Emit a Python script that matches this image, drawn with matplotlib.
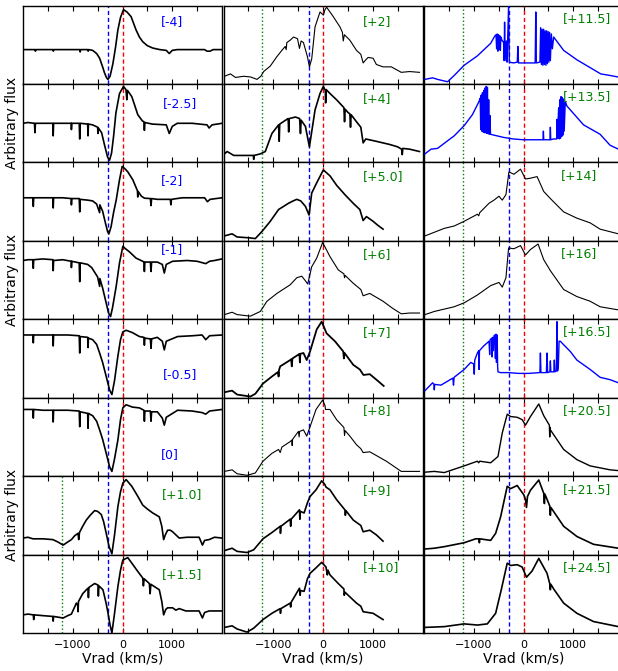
import numpy as np
import matplotlib
matplotlib.use("Agg")
import matplotlib.pyplot as plt

# spectra: (Vrad km/s, arbitrary flux)
s_m4 = [(-2000,0.44),(-1760,0.44),(-1750,0.42),(-1740,0.44),(-1400,0.44),(-1390,0.42),(-1380,0.44),(-860,0.44),(-850,0.41),(-840,0.44),(-700,0.44),(-690,0.42),(-680,0.44),(-600,0.43),(-520,0.39),(-460,0.33),(-400,0.22),(-360,0.14),(-320,0.08),(-293,0.06),(-250,0.10),(-193,0.26),(-140,0.47),(-93,0.69),(-40,0.85),(20,0.95),(90,0.92),(173,0.86),(273,0.69),(340,0.60),(407,0.54),(500,0.49),(607,0.46),(750,0.44),(880,0.43),(940,0.39),(1000,0.43),(1100,0.44),(1650,0.44),(1700,0.42),(1760,0.42),(1820,0.44),(2000,0.44)]
s_m2p5 = [(-2000,0.50),(-1900,0.51),(-1770,0.50),(-1760,0.38),(-1750,0.50),(-1600,0.50),(-1400,0.50),(-1393,0.34),(-1385,0.50),(-1200,0.50),(-1030,0.50),(-1027,0.42),(-1020,0.50),(-870,0.50),(-860,0.30),(-850,0.50),(-700,0.49),(-693,0.34),(-685,0.49),(-600,0.48),(-500,0.45),(-493,0.37),(-485,0.44),(-420,0.38),(-360,0.22),(-300,0.07),(-260,0.03),(-220,0.12),(-180,0.33),(-133,0.63),(-60,0.88),(20,0.97),(70,0.93),(87,0.80),(100,0.92),(187,0.84),(250,0.72),(307,0.61),(400,0.53),(430,0.52),(440,0.41),(450,0.51),(600,0.49),(880,0.48),(940,0.37),(1000,0.46),(1100,0.50),(1400,0.50),(1700,0.48),(1740,0.44),(1800,0.48),(2000,0.50)]
s_m2 = [(-2000,0.55),(-1800,0.55),(-1793,0.44),(-1785,0.55),(-1600,0.55),(-1400,0.55),(-1393,0.42),(-1385,0.55),(-1200,0.55),(-1030,0.54),(-1027,0.46),(-1020,0.54),(-870,0.54),(-860,0.37),(-850,0.53),(-700,0.52),(-600,0.51),(-520,0.47),(-460,0.36),(-455,0.46),(-400,0.38),(-340,0.22),(-300,0.12),(-273,0.09),(-230,0.18),(-180,0.36),(-127,0.52),(-60,0.78),(-7,0.95),(50,0.92),(107,0.88),(207,0.78),(300,0.64),(307,0.56),(315,0.63),(380,0.57),(440,0.545),(560,0.54),(573,0.45),(585,0.54),(700,0.53),(960,0.53),(973,0.46),(985,0.53),(1200,0.55),(1650,0.55),(1707,0.50),(1760,0.53),(2000,0.55)]
s_m1 = [(-2000,0.75),(-1900,0.76),(-1800,0.76),(-1793,0.65),(-1785,0.76),(-1600,0.77),(-1400,0.76),(-1393,0.62),(-1385,0.75),(-1200,0.76),(-1030,0.74),(-1027,0.66),(-1020,0.74),(-870,0.72),(-860,0.48),(-850,0.72),(-700,0.70),(-620,0.66),(-560,0.60),(-500,0.54),(-460,0.42),(-455,0.52),(-400,0.40),(-340,0.24),(-280,0.08),(-240,0.035),(-200,0.15),(-127,0.42),(-60,0.72),(7,0.93),(60,0.90),(140,0.86),(273,0.78),(407,0.74),(430,0.73),(440,0.61),(450,0.73),(560,0.73),(573,0.61),(585,0.73),(700,0.73),(800,0.70),(840,0.59),(880,0.70),(1007,0.74),(1300,0.75),(1500,0.74),(1673,0.71),(1750,0.74),(1850,0.75),(2000,0.77)]
s_m0p5 = [(-2000,0.80),(-1800,0.80),(-1793,0.70),(-1785,0.80),(-1600,0.80),(-1400,0.80),(-1393,0.66),(-1385,0.80),(-1100,0.80),(-870,0.79),(-860,0.57),(-850,0.78),(-700,0.77),(-693,0.64),(-685,0.76),(-600,0.74),(-520,0.68),(-460,0.57),(-400,0.45),(-327,0.27),(-260,0.10),(-213,0.04),(-160,0.22),(-93,0.53),(-40,0.74),(7,0.84),(73,0.86),(200,0.83),(340,0.78),(430,0.77),(440,0.67),(450,0.76),(560,0.75),(573,0.63),(585,0.75),(700,0.77),(800,0.72),(840,0.61),(880,0.72),(1107,0.78),(1400,0.79),(1600,0.80),(1673,0.74),(1750,0.79),(2000,0.80)]
s_0 = [(-2000,0.85),(-1800,0.85),(-1793,0.74),(-1785,0.85),(-1600,0.84),(-1400,0.84),(-1393,0.69),(-1385,0.84),(-1100,0.84),(-870,0.83),(-860,0.63),(-850,0.82),(-700,0.80),(-693,0.61),(-685,0.80),(-600,0.77),(-520,0.70),(-460,0.59),(-400,0.47),(-327,0.29),(-260,0.12),(-213,0.06),(-160,0.22),(-93,0.46),(-40,0.72),(7,0.87),(73,0.91),(200,0.88),(340,0.87),(430,0.84),(440,0.70),(450,0.83),(560,0.83),(573,0.70),(585,0.82),(700,0.82),(800,0.74),(840,0.65),(880,0.75),(1107,0.84),(1400,0.83),(1600,0.81),(1673,0.79),(1750,0.83),(2000,0.85)]
s_p1 = [(-2000,0.21),(-1900,0.22),(-1800,0.20),(-1600,0.20),(-1400,0.19),(-1300,0.16),(-1193,0.12),(-1100,0.16),(-1027,0.19),(-960,0.24),(-893,0.27),(-880,0.19),(-865,0.28),(-800,0.36),(-727,0.44),(-650,0.50),(-560,0.56),(-500,0.55),(-427,0.51),(-380,0.42),(-327,0.27),(-270,0.10),(-213,0.01),(-160,0.25),(-93,0.61),(-40,0.80),(7,0.91),(73,0.955),(187,0.87),(300,0.75),(407,0.63),(500,0.58),(607,0.53),(740,0.48),(790,0.36),(827,0.19),(860,0.25),(907,0.31),(960,0.31),(1007,0.29),(1140,0.21),(1300,0.22),(1540,0.22),(1607,0.12),(1650,0.18),(1740,0.19),(1850,0.22),(2000,0.21)]
s_p1p5 = [(-2000,0.23),(-1900,0.24),(-1793,0.23),(-1785,0.17),(-1775,0.23),(-1600,0.22),(-1400,0.21),(-1393,0.15),(-1385,0.21),(-1193,0.19),(-1100,0.22),(-1027,0.24),(-927,0.38),(-900,0.35),(-893,0.27),(-885,0.40),(-800,0.50),(-727,0.55),(-693,0.57),(-685,0.45),(-675,0.58),(-560,0.63),(-493,0.61),(-485,0.47),(-475,0.60),(-393,0.55),(-330,0.38),(-293,0.26),(-250,0.10),(-213,0.0),(-160,0.25),(-93,0.59),(-40,0.80),(7,0.93),(107,0.96),(187,0.89),(300,0.79),(407,0.70),(420,0.60),(435,0.69),(540,0.63),(555,0.50),(570,0.62),(740,0.55),(790,0.40),(827,0.23),(870,0.30),(907,0.32),(1007,0.32),(1073,0.29),(1140,0.31),(1273,0.28),(1540,0.28),(1607,0.19),(1650,0.26),(1740,0.28),(2000,0.28)]

s_p2 = [(-1980,0.10),(-1860,0.13),(-1760,0.085),(-1593,0.10),(-1450,0.09),(-1327,0.06),(-1250,0.10),(-1193,0.16),(-1060,0.23),(-927,0.35),(-827,0.43),(-760,0.48),(-740,0.44),(-727,0.53),(-660,0.56),(-593,0.60),(-513,0.58),(-473,0.455),(-440,0.55),(-393,0.53),(-313,0.35),(-273,0.22),(-227,0.32),(-160,0.73),(-60,0.92),(7,0.88),(40,0.95),(73,0.98),(207,0.86),(340,0.73),(390,0.66),(407,0.55),(430,0.63),(540,0.56),(673,0.43),(760,0.38),(807,0.27),(860,0.31),(907,0.34),(1007,0.33),(1073,0.25),(1207,0.22),(1373,0.22),(1573,0.15),(1740,0.16),(1940,0.15)]
s_p4 = [(-1980,0.11),(-1927,0.14),(-1793,0.09),(-1600,0.09),(-1400,0.09),(-1393,0.04),(-1385,0.09),(-1260,0.11),(-1160,0.14),(-1027,0.37),(-893,0.48),(-880,0.27),(-870,0.49),(-727,0.55),(-700,0.56),(-690,0.39),(-680,0.56),(-553,0.58),(-470,0.56),(-453,0.37),(-440,0.54),(-353,0.46),(-273,0.20),(-160,0.67),(-60,0.88),(7,0.97),(47,0.92),(53,0.76),(65,0.93),(140,0.88),(273,0.80),(420,0.70),(433,0.52),(445,0.68),(500,0.64),(540,0.62),(553,0.45),(565,0.61),(673,0.52),(760,0.45),(807,0.25),(860,0.30),(1073,0.27),(1340,0.23),(1500,0.20),(1580,0.17),(1593,0.10),(1605,0.18),(1740,0.17),(1940,0.14)]
s_p5 = [(-1980,0.064),(-1827,0.09),(-1727,0.05),(-1500,0.04),(-1360,0.03),(-1227,0.12),(-1060,0.25),(-893,0.40),(-693,0.48),(-600,0.51),(-527,0.53),(-447,0.51),(-353,0.44),(-280,0.33),(-227,0.61),(-127,0.74),(7,0.905),(140,0.83),(273,0.71),(440,0.59),(607,0.48),(740,0.40),(807,0.26),(873,0.31),(1007,0.25),(1100,0.20),(1207,0.15)]
s_p6 = [(-1980,0.06),(-1827,0.09),(-1727,0.06),(-1460,0.04),(-1260,0.10),(-1127,0.23),(-927,0.33),(-660,0.44),(-527,0.53),(-427,0.55),(-353,0.49),(-307,0.45),(-227,0.67),(-127,0.78),(-7,0.98),(140,0.80),(307,0.63),(420,0.58),(433,0.53),(445,0.56),(607,0.46),(760,0.38),(807,0.30),(940,0.33),(1207,0.23),(1400,0.14),(1573,0.07),(1740,0.08),(1940,0.08)]
s_p7 = [(-1980,0.07),(-1827,0.09),(-1727,0.04),(-1460,0.015),(-1360,0.05),(-1207,0.18),(-1027,0.27),(-900,0.33),(-893,0.27),(-885,0.35),(-860,0.40),(-660,0.48),(-640,0.49),(-627,0.40),(-615,0.50),(-493,0.55),(-473,0.56),(-465,0.45),(-455,0.56),(-393,0.57),(-327,0.48),(-260,0.59),(-127,0.87),(-27,0.97),(73,0.82),(240,0.72),(407,0.59),(420,0.50),(433,0.57),(607,0.42),(740,0.36),(813,0.29),(940,0.30),(1073,0.23),(1220,0.15)]
s_p8 = [(-1980,0.06),(-1827,0.08),(-1727,0.03),(-1527,0.01),(-1360,0.04),(-1207,0.19),(-1027,0.29),(-893,0.34),(-860,0.30),(-827,0.37),(-660,0.44),(-627,0.46),(-620,0.39),(-610,0.47),(-493,0.57),(-480,0.50),(-470,0.57),(-393,0.59),(-327,0.51),(-260,0.63),(-140,0.85),(-7,0.97),(40,0.90),(50,0.85),(140,0.85),(273,0.72),(420,0.62),(433,0.52),(445,0.58),(540,0.51),(673,0.40),(760,0.35),(807,0.30),(940,0.31),(1273,0.19),(1573,0.06),(1940,0.06)]
s_p9 = [(-1980,0.05),(-1827,0.08),(-1727,0.04),(-1527,0.025),(-1393,0.06),(-1207,0.20),(-1027,0.28),(-860,0.36),(-855,0.27),(-845,0.36),(-660,0.45),(-650,0.36),(-640,0.45),(-473,0.57),(-465,0.45),(-455,0.55),(-380,0.53),(-313,0.66),(-260,0.74),(-140,0.825),(-27,0.94),(40,0.89),(60,0.86),(140,0.825),(273,0.70),(440,0.57),(450,0.50),(460,0.56),(607,0.44),(760,0.37),(807,0.29),(940,0.31),(1073,0.25),(1207,0.17)]
s_p10 = [(-1980,0.07),(-1827,0.09),(-1727,0.05),(-1527,0.01),(-1393,0.06),(-1207,0.17),(-1027,0.25),(-860,0.31),(-855,0.25),(-845,0.31),(-660,0.38),(-650,0.33),(-640,0.39),(-473,0.57),(-460,0.48),(-450,0.54),(-380,0.53),(-313,0.69),(-260,0.76),(-140,0.83),(-27,0.90),(60,0.84),(87,0.74),(100,0.80),(140,0.74),(307,0.63),(420,0.56),(427,0.48),(440,0.52),(540,0.46),(673,0.38),(760,0.34),(807,0.27),(1007,0.25),(1207,0.17)]

s_p11p5 = [(-1980,0.06),(-1827,0.08),(-1727,0.06),(-1527,0.03),(-1393,0.11),(-1193,0.24),(-927,0.36),(-660,0.52),(-580,0.61),(-553,0.63),(-540,0.45),(-530,0.64),(-515,0.42),(-505,0.63),(-490,0.44),(-480,0.62),(-465,0.43),(-455,0.60),(-433,0.56),(-400,0.53),(-390,0.30),(-380,0.79),(-370,0.30),(-345,0.55),(-330,0.28),(-300,0.99),(-285,0.28),(-200,0.27),(-125,0.28),(-113,0.48),(-100,0.27),(100,0.27),(235,0.27),(247,0.92),(258,0.27),(330,0.28),(345,0.72),(360,0.25),(375,0.70),(390,0.24),(405,0.70),(420,0.25),(435,0.68),(450,0.24),(465,0.68),(480,0.26),(495,0.67),(510,0.28),(525,0.66),(540,0.30),(560,0.64),(580,0.45),(607,0.60),(807,0.43),(1073,0.31),(1340,0.21),(1553,0.13),(1740,0.11),(1907,0.09)]
s_p13p5 = [(-1980,0.11),(-1860,0.17),(-1727,0.18),(-1593,0.245),(-1393,0.34),(-1193,0.47),(-1027,0.61),(-893,0.78),(-870,0.82),(-860,0.42),(-850,0.86),(-838,0.40),(-825,0.89),(-813,0.39),(-800,0.92),(-788,0.38),(-775,0.95),(-763,0.38),(-750,0.97),(-738,0.37),(-725,0.96),(-713,0.37),(-700,0.80),(-688,0.36),(-675,0.60),(-663,0.36),(-600,0.35),(-400,0.32),(-200,0.30),(0,0.29),(200,0.29),(393,0.29),(400,0.40),(407,0.29),(533,0.29),(540,0.45),(547,0.29),(600,0.30),(667,0.30),(673,0.55),(680,0.31),(707,0.70),(718,0.30),(730,0.80),(742,0.31),(755,0.84),(767,0.33),(780,0.83),(792,0.35),(805,0.81),(818,0.40),(840,0.78),(873,0.72),(1207,0.48),(1540,0.36),(1740,0.22),(1907,0.17)]
s_p14 = [(-1980,0.064),(-1793,0.11),(-1593,0.16),(-1393,0.19),(-1193,0.25),(-927,0.34),(-900,0.32),(-880,0.36),(-693,0.48),(-593,0.52),(-493,0.57),(-427,0.52),(-353,0.59),(-293,0.88),(-193,0.85),(-60,0.915),(40,0.79),(140,0.80),(273,0.82),(407,0.63),(540,0.54),(807,0.37),(1073,0.29),(1340,0.23),(1540,0.15),(1907,0.09)]
s_p16 = [(-1980,0.06),(-1793,0.10),(-1393,0.16),(-1193,0.21),(-927,0.31),(-660,0.43),(-493,0.47),(-427,0.41),(-353,0.53),(-300,0.91),(-193,0.90),(-60,0.94),(40,0.82),(140,0.89),(293,0.96),(407,0.76),(540,0.62),(807,0.38),(1073,0.29),(1340,0.23),(1540,0.16),(1907,0.12)]
s_p16p5 = [(-1980,0.09),(-1827,0.19),(-1800,0.17),(-1793,0.10),(-1785,0.17),(-1660,0.16),(-1420,0.25),(-1407,0.16),(-1395,0.26),(-1193,0.36),(-1060,0.45),(-1000,0.43),(-990,0.30),(-980,0.48),(-927,0.57),(-900,0.60),(-893,0.36),(-885,0.60),(-800,0.66),(-693,0.72),(-680,0.55),(-670,0.74),(-640,0.76),(-630,0.52),(-620,0.77),(-605,0.60),(-593,0.79),(-575,0.80),(-565,0.50),(-553,0.81),(-543,0.45),(-530,0.80),(-520,0.40),(-513,0.33),(-460,0.32),(-300,0.32),(-100,0.31),(100,0.31),(330,0.32),(340,0.57),(350,0.32),(460,0.32),(473,0.57),(485,0.32),(530,0.33),(540,0.47),(550,0.33),(610,0.33),(620,0.48),(630,0.33),(660,0.34),(673,0.97),(685,0.34),(700,0.40),(715,0.72),(740,0.72),(800,0.68),(940,0.59),(1073,0.48),(1340,0.36),(1540,0.26),(1740,0.23),(1907,0.19)]
s_p20p5 = [(-1980,0.05),(-1793,0.06),(-1593,0.045),(-1193,0.13),(-927,0.19),(-900,0.17),(-880,0.19),(-660,0.17),(-513,0.25),(-427,0.55),(-327,0.79),(-260,0.76),(-127,0.75),(-27,0.72),(40,0.65),(140,0.76),(307,0.92),(407,0.77),(520,0.65),(527,0.50),(535,0.62),(540,0.59),(807,0.34),(1073,0.21),(1340,0.13),(1740,0.08),(1907,0.07)]
s_p21p5 = [(-1980,0.07),(-1793,0.08),(-1593,0.10),(-1193,0.15),(-960,0.20),(-893,0.20),(-887,0.15),(-880,0.20),(-660,0.18),(-560,0.27),(-460,0.48),(-327,0.87),(-260,0.84),(-127,0.88),(7,0.76),(40,0.70),(60,0.60),(80,0.74),(140,0.82),(307,0.95),(407,0.78),(420,0.65),(430,0.77),(527,0.62),(540,0.50),(550,0.60),(807,0.36),(1073,0.23),(1407,0.13),(1907,0.08)]
s_p24p5 = [(-1980,0.07),(-1593,0.08),(-1193,0.115),(-927,0.10),(-727,0.115),(-560,0.25),(-447,0.55),(-327,0.89),(-260,0.86),(-127,0.87),(-27,0.84),(60,0.71),(173,0.79),(307,0.95),(473,0.76),(527,0.63),(540,0.55),(550,0.62),(607,0.56),(807,0.38),(1073,0.25),(1407,0.145),(1907,0.08)]

spectra = [
    [s_m4, s_m2p5, s_m2, s_m1, s_m0p5, s_0, s_p1, s_p1p5],
    [s_p2, s_p4, s_p5, s_p6, s_p7, s_p8, s_p9, s_p10],
    [s_p11p5, s_p13p5, s_p14, s_p16, s_p16p5, s_p20p5, s_p21p5, s_p24p5],
]
phases = [
    ["[-4]", "[-2.5]", "[-2]", "[-1]", "[-0.5]", "[0]", "[+1.0]", "[+1.5]"],
    ["[+2]", "[+4]", "[+5.0]", "[+6]", "[+7]", "[+8]", "[+9]", "[+10]"],
    ["[+11.5]", "[+13.5]", "[+14]", "[+16]", "[+16.5]", "[+20.5]", "[+21.5]", "[+24.5]"],
]
v_blue = -290
v_red = 0
v_green = -1220

# label placement (axes fraction)
label_pos = [
    [(0.75, 0.80), (0.79, 0.75), (0.75, 0.77), (0.75, 0.89), (0.79, 0.29), (0.74, 0.27), (0.80, 0.76), (0.80, 0.75)],
    [(0.77, 0.80), (0.77, 0.81), (0.80, 0.82), (0.77, 0.82), (0.77, 0.83), (0.77, 0.83), (0.77, 0.82), (0.79, 0.83)],
    [(0.82, 0.84), (0.82, 0.84), (0.78, 0.84), (0.78, 0.84), (0.82, 0.84), (0.82, 0.84), (0.82, 0.83), (0.82, 0.84)],
]
line_w = [
    [1.2] * 8,
    [0.8, 1.2, 1.2, 0.8, 1.3, 0.8, 1.2, 1.2],
    [1.0, 1.0, 0.8, 0.8, 1.0, 1.0, 1.2, 1.2],
]

W, H = 618, 671
fig = plt.figure(figsize=(W / 100, H / 100), dpi=100)

col_left = [23, 223.5, 424]
col_w = 199
top = 5.7
row_h = 78.4

for c in range(3):
    for r in range(8):
        y0 = H - (top + (r + 1) * row_h)
        ax = fig.add_axes([col_left[c] / W, y0 / H, col_w / W, row_h / H])

        v = [p[0] for p in spectra[c][r]]
        f = [p[1] for p in spectra[c][r]]

        blue_spec = (c == 2 and r in (0, 1, 4))
        ax.plot(v, f, color="blue" if blue_spec else "black",
                lw=line_w[c][r], zorder=3)

        ax.axvline(v_blue, color="blue", ls=(0, (3, 2)), lw=1, zorder=2)
        ax.axvline(v_red, color="red", ls=(0, (3, 2)), lw=1, zorder=2)
        if c > 0 or r >= 6:
            ax.axvline(v_green, color="green", ls=":", lw=1, zorder=2)

        txt_col = "blue" if (c == 0 and r <= 5) else "green"
        lx, ly = label_pos[c][r]
        ax.text(lx, ly, phases[c][r], transform=ax.transAxes,
                ha="center", va="center", color=txt_col, fontsize=9)

        ax.set_xlim(-2000, 2000)
        ax.set_ylim(0, 1)
        ax.set_yticks([])
        ax.set_xticks([-1000, 0, 1000])
        ax.set_xticks([-1500, -500, 500, 1500], minor=True)
        ax.tick_params(which="both", direction="in", top=True, length=3.5,
                       width=0.8, labelsize=8, pad=5)
        if r < 7:
            ax.tick_params(labelbottom=False)
        else:
            ax.set_xlabel("Vrad (km/s)", fontsize=10, labelpad=1)
        for sp in ax.spines.values():
            sp.set_linewidth(1.0)

        if c == 0 and r in (1, 3, 6):
            ax.set_ylabel("Arbitrary flux", fontsize=10, labelpad=3)

fig.savefig("out.png", dpi=100)
